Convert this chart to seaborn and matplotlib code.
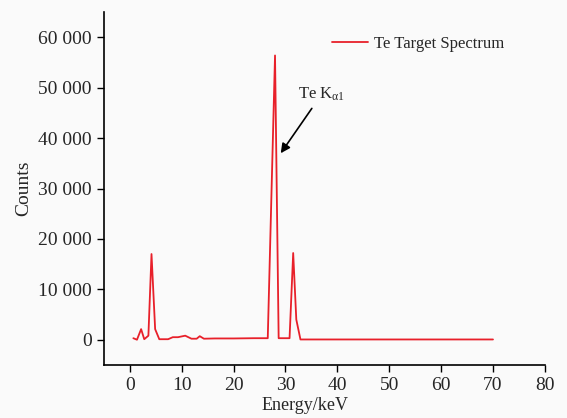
"""Te target X-ray spectrum."""

import matplotlib

matplotlib.use("Agg")
import matplotlib.pyplot as plt
import pandas as pd
import seaborn as sns
from matplotlib.ticker import FuncFormatter

# Data
energy_kev = [0.7, 1.4, 2.2, 2.8, 3.6, 4.2, 4.9, 5.7, 7.4, 8.3, 9.3, 10.7, 11.9,
              12.9, 13.5, 14.3, 16.4, 20.0, 24.0, 26.6, 28.0, 28.7, 30.8, 31.5,
              32.1, 32.9, 40.0, 50.0, 60.0, 70.0]
counts = [300, 0, 2100, 100, 800, 17000, 2100, 100, 100, 500, 500, 800, 200,
          200, 700, 200, 250, 250, 300, 300, 56400, 300, 300, 17200,
          4000, 50, 50, 50, 50, 50]

x_ticks = [0, 10, 20, 30, 40, 50, 60, 70, 80]
y_ticks = [0, 10000, 20000, 30000, 40000, 50000, 60000]

sns.set_style("ticks")
plt.rcParams["font.family"] = ["Liberation Serif", "DejaVu Serif"]
plt.rcParams["mathtext.fontset"] = "custom"
plt.rcParams["mathtext.rm"] = "Liberation Serif"

df = pd.DataFrame({"energy": energy_kev, "counts": counts})

fig = plt.figure(figsize=(5.67, 4.18), dpi=100, facecolor="#fafafa")
ax = fig.add_axes([0.183, 0.127, 0.778, 0.844])
ax.set_facecolor("#fafafa")

sns.lineplot(data=df, x="energy", y="counts", ax=ax, color="#e8202a",
             linewidth=1.3, label="Te Target Spectrum")

ax.set_xlim(-5, 80)
ax.set_ylim(-5000, 65000)
ax.set_xticks(x_ticks)
ax.set_yticks(y_ticks)
ax.yaxis.set_major_formatter(FuncFormatter(lambda v, p: f"{int(v):,}".replace(",", " ")))
ax.tick_params(labelsize=14, length=5, width=1, color="black", direction="out")
ax.set_xlabel("Energy/keV", fontsize=13)
ax.xaxis.set_label_coords(0.457, -0.09)
ax.set_ylabel("Counts", fontsize=14)
for side in ["top", "right"]:
    ax.spines[side].set_visible(False)
for side in ["left", "bottom"]:
    ax.spines[side].set_linewidth(1.2)
    ax.spines[side].set_color("black")

ax.annotate(r"Te K$\mathregular{_{α1}}$", xy=(29.1, 37000), xytext=(37, 47000),
            fontsize=12, ha="center", va="bottom",
            arrowprops=dict(arrowstyle="-|>", color="black", lw=1.2,
                            mutation_scale=14, shrinkA=2, shrinkB=0))

ax.legend(loc="center left", frameon=False, fontsize=12, handlelength=2.2,
          handletextpad=0.35, borderpad=0, borderaxespad=0,
          bbox_to_anchor=(0.517, 0.91))

plt.savefig("out.png", dpi=100, facecolor=fig.get_facecolor())
